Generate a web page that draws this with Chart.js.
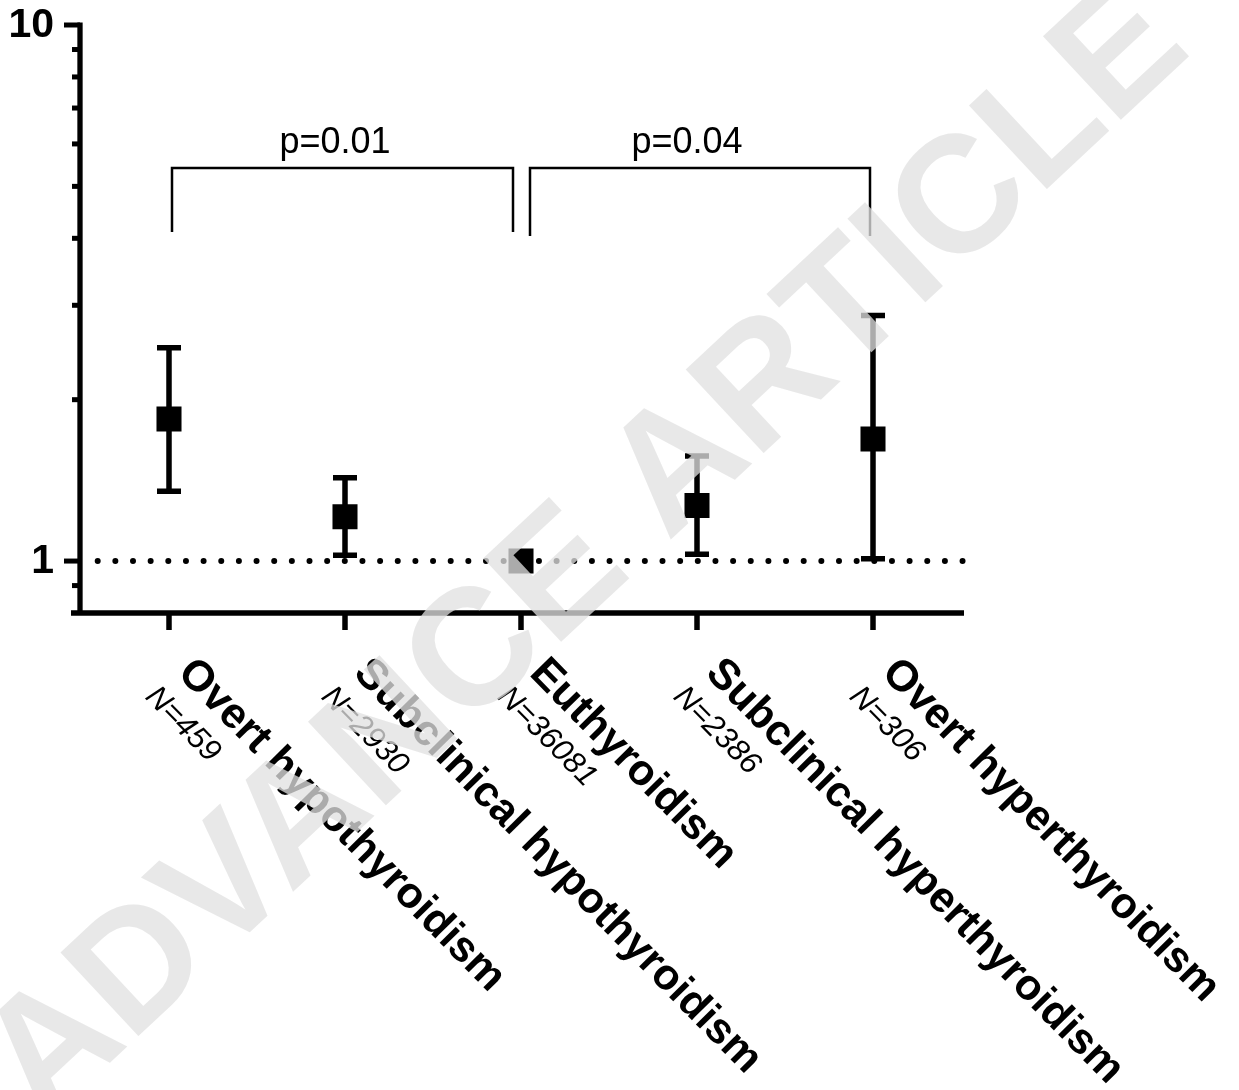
<!DOCTYPE html>
<html>
<head>
<meta charset="utf-8">
<script src="https://cdn.jsdelivr.net/npm/chart.js@4.4.1/dist/chart.umd.min.js"></script>
<style>
  body { margin: 0; background: #fff; }
  #wrap { width: 1239px; height: 1090px; }
</style>
</head>
<body>
<div id="wrap"><canvas id="thyroidChart"></canvas></div>
<script>
// Category names and the group sizes printed under them
var groups = ["Overt hypothyroidism", "Subclinical hypothyroidism", "Euthyroidism", "Subclinical hyperthyroidism", "Overt hyperthyroidism"];
var groupN = ["N=459", "N=2930", "N=36081", "N=2386", "N=306"];

// Point estimates and 95% CI (euthyroid = reference)
var estimate = [1.84, 1.21, 1.0, 1.27, 1.69];
var lowerCI = [1.35, 1.025, null, 1.03, 1.01];
var upperCI = [2.50, 1.43, null, 1.57, 2.87];

// Y axis range and ticks
var yMin = 0.8;
var yMax = 10;
var majorTicks = [1, 10];
var minorTicks = [0.9, 2, 3, 4, 5, 6, 7, 8, 9];

// Comparison brackets between groups
var pFrom = [0, 2];
var pTo = [2, 4];
var pLabels = ["p=0.01", "p=0.04"];

var FONT = '"Liberation Sans", Arial, Helvetica, sans-serif';

// Draws the Prism-style axes, error bars, brackets and labels with the chart's own scales
var prismPlugin = {
    id: 'prismPlugin',
    beforeDatasetsDraw(chart) {
        var ctx = chart.ctx;
        var x = chart.scales.x;
        var y = chart.scales.y;
        ctx.save();
        // dotted reference line at 1
        ctx.strokeStyle = '#000';
        ctx.lineWidth = 6;
        ctx.lineCap = 'round';
        ctx.setLineDash([0, 17.65]);
        ctx.beginPath();
        ctx.moveTo(97.7, y.getPixelForValue(1));
        ctx.lineTo(964, y.getPixelForValue(1));
        ctx.stroke();
        ctx.setLineDash([]);
        ctx.lineCap = 'butt';

        // error bars
        ctx.lineWidth = 5.5;
        for (var i = 0; i < groups.length; i++) {
            if (lowerCI[i] == null) continue;
            var px = x.getPixelForValue(i);
            var lo = y.getPixelForValue(lowerCI[i]);
            var hi = y.getPixelForValue(upperCI[i]);
            ctx.beginPath();
            ctx.moveTo(px, lo);
            ctx.lineTo(px, hi);
            ctx.moveTo(px - 12, lo);
            ctx.lineTo(px + 12, lo);
            ctx.moveTo(px - 12, hi);
            ctx.lineTo(px + 12, hi);
            ctx.stroke();
        }
        ctx.restore();
    },
    afterDraw(chart) {
        var ctx = chart.ctx;
        var x = chart.scales.x;
        var y = chart.scales.y;
        var area = chart.chartArea;
        ctx.save();
        ctx.strokeStyle = '#000';
        ctx.fillStyle = '#000';

        // axis lines
        ctx.lineWidth = 5.3;
        ctx.beginPath();
        ctx.moveTo(80, area.top - 2.5);
        ctx.lineTo(80, area.bottom);
        ctx.moveTo(71, area.bottom);
        ctx.lineTo(964, area.bottom);
        ctx.stroke();

        // y ticks
        ctx.lineWidth = 5;
        majorTicks.forEach(function (v) {
            var py = y.getPixelForValue(v);
            ctx.beginPath();
            ctx.moveTo(64, py);
            ctx.lineTo(80, py);
            ctx.stroke();
        });
        minorTicks.forEach(function (v) {
            var py = y.getPixelForValue(v);
            ctx.beginPath();
            ctx.moveTo(72, py);
            ctx.lineTo(80, py);
            ctx.stroke();
        });
        ctx.font = 'bold 41px ' + FONT;
        ctx.textAlign = 'right';
        ctx.textBaseline = 'middle';
        majorTicks.forEach(function (v) {
            ctx.fillText(String(v), 54, y.getPixelForValue(v) + 1);
        });

        // x ticks and rotated labels
        ctx.lineWidth = 5.5;
        for (var i = 0; i < groups.length; i++) {
            var px = x.getPixelForValue(i);
            ctx.beginPath();
            ctx.moveTo(px, area.bottom);
            ctx.lineTo(px, area.bottom + 17);
            ctx.stroke();

            ctx.save();
            ctx.translate(px, area.bottom);
            ctx.rotate(45.5 * Math.PI / 180);
            ctx.textAlign = 'left';
            ctx.textBaseline = 'alphabetic';
            ctx.font = 'bold 43px ' + FONT;
            ctx.fillText(groups[i], 49, 38);
            ctx.font = 'italic 31px ' + FONT;
            ctx.fillText(groupN[i], 43, 77);
            ctx.restore();
        }

        // p-value brackets
        ctx.lineWidth = 2.5;
        ctx.font = '36px ' + FONT;
        ctx.textAlign = 'center';
        ctx.textBaseline = 'alphabetic';
        for (var k = 0; k < pLabels.length; k++) {
            var a = x.getPixelForValue(pFrom[k]);
            var b = x.getPixelForValue(pTo[k]);
            var x0 = k === 0 ? a + 3 : a + 9;
            var x1 = k === 0 ? b - 8 : b - 3;
            var top = 168;
            var legEnd = k === 0 ? 232 : 236;
            ctx.beginPath();
            ctx.moveTo(x0, legEnd);
            ctx.lineTo(x0, top);
            ctx.lineTo(x1, top);
            ctx.lineTo(x1, legEnd);
            ctx.stroke();
            ctx.fillText(pLabels[k], (a + b) / 2 - 10, 153);
        }

        // watermark across the figure
        ctx.translate(587, 555);
        ctx.rotate(-43 * Math.PI / 180);
        ctx.font = 'bold 166px ' + FONT;
        ctx.textAlign = 'center';
        ctx.textBaseline = 'middle';
        ctx.fillStyle = 'rgba(225,225,225,0.76)';
        ctx.fillText('ADVANCE ARTICLE', 0, 0);
        ctx.restore();
    }
};

new Chart("thyroidChart", {
    type: "line",
    data: {
        labels: groups,
        datasets: [{
            data: estimate,
            showLine: false,
            pointStyle: 'rect',
            pointRadius: 17.7,
            pointHoverRadius: 17.7,
            pointBorderWidth: 0,
            pointBackgroundColor: '#000',
            borderColor: '#000'
        }]
    },
    options: {
        responsive: true,
        maintainAspectRatio: false,
        animation: false,
        devicePixelRatio: 1,
        layout: { padding: { left: 81, right: 278, top: 25, bottom: 477 } },
        plugins: { legend: { display: false }, tooltip: { enabled: false } },
        scales: {
            x: { type: 'category', offset: true, display: false },
            y: { type: 'logarithmic', min: yMin, max: yMax, display: false }
        }
    },
    plugins: [prismPlugin]
});
</script>
</body>
</html>
